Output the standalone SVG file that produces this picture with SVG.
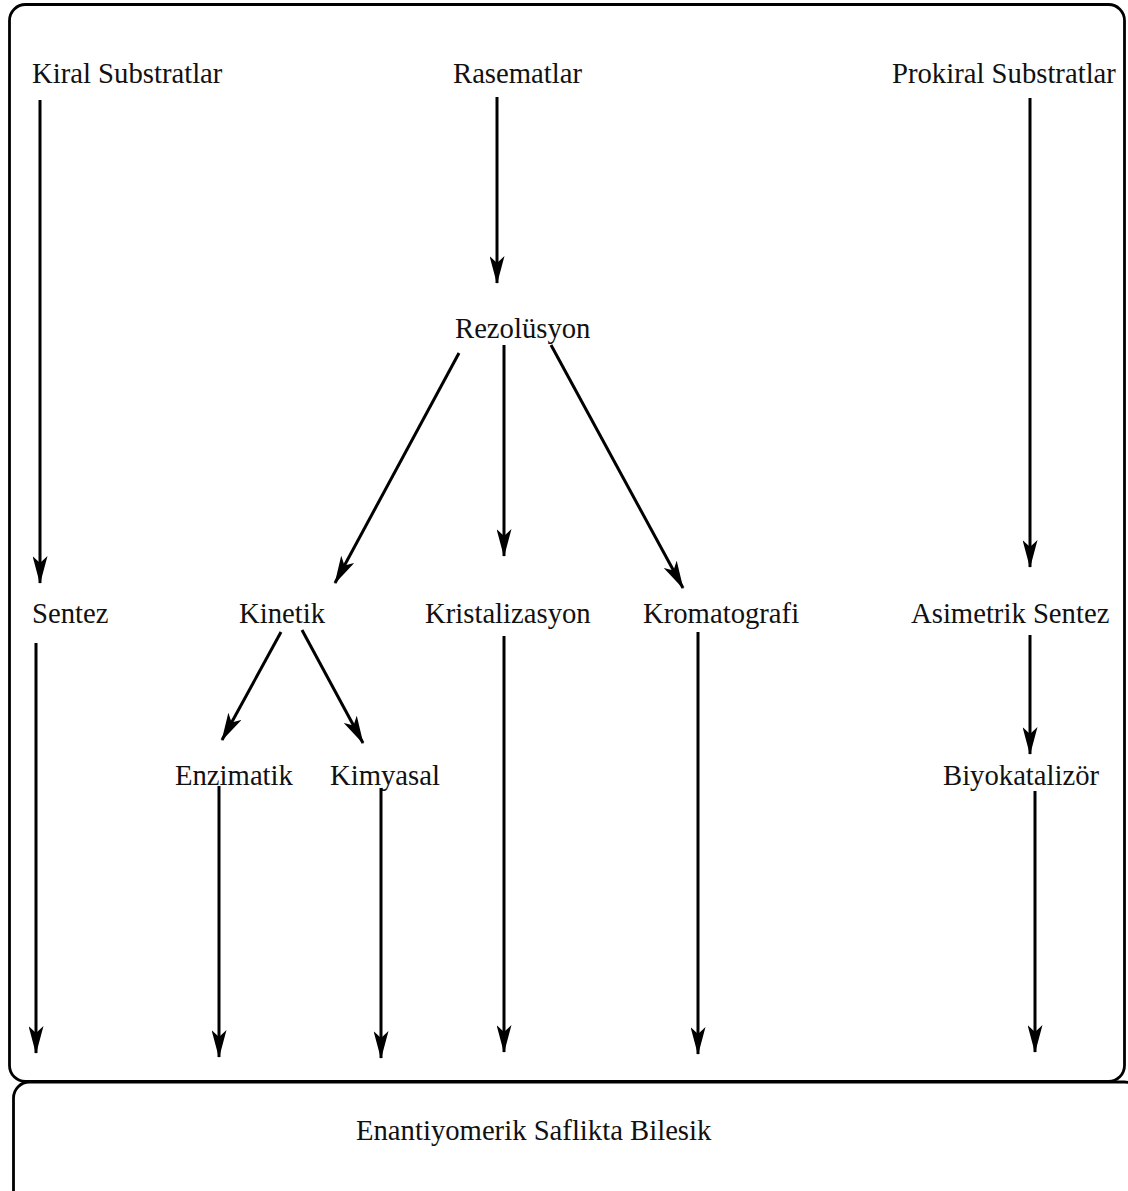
<svg xmlns="http://www.w3.org/2000/svg" width="1128" height="1191" viewBox="0 0 1128 1191">
  <style>
    .frame { fill: none; stroke: #000; stroke-width: 2.8; }
    .lbl { font-family: "Liberation Serif", "Times New Roman", serif; font-size: 28.7px; fill: #111; }
    .edge { fill: none; stroke: #000; stroke-width: 3; marker-end: url(#head); }
  </style>
  <defs>
    <!-- notched arrowhead, tip at the line end -->
    <marker id="head" markerUnits="userSpaceOnUse" viewBox="0 0 28 15" refX="27" refY="7.5" markerWidth="28" markerHeight="15" orient="auto">
      <path d="M0,0 L28,7.5 L0,15 L7,7.5 Z" fill="#000"/>
    </marker>
  </defs>

  <!-- outer frame and result box -->
  <rect class="frame" x="9.5" y="4.5" width="1115" height="1077" rx="16" ry="16"/>
  <rect class="frame" x="13.5" y="1082" width="1127" height="130" rx="16" ry="16"/>

  <g id="kiral"><text class="lbl" x="32" y="83">Kiral Substratlar</text></g>
  <g id="rasematlar"><text class="lbl" x="453" y="83">Rasematlar</text></g>
  <g id="prokiral"><text class="lbl" x="892" y="83">Prokiral Substratlar</text></g>
  <g id="rezolusyon"><text class="lbl" x="455" y="338">Rezolüsyon</text></g>
  <g id="sentez"><text class="lbl" x="32" y="623">Sentez</text></g>
  <g id="kinetik"><text class="lbl" x="239" y="623">Kinetik</text></g>
  <g id="kristalizasyon"><text class="lbl" x="425" y="623">Kristalizasyon</text></g>
  <g id="kromatografi"><text class="lbl" x="643" y="623">Kromatografi</text></g>
  <g id="asimetrik"><text class="lbl" x="911" y="623">Asimetrik Sentez</text></g>
  <g id="enzimatik"><text class="lbl" x="175" y="785">Enzimatik</text></g>
  <g id="kimyasal"><text class="lbl" x="330" y="785">Kimyasal</text></g>
  <g id="biyokatalizor"><text class="lbl" x="943" y="785">Biyokatalizör</text></g>
  <g id="urun"><text class="lbl" x="356" y="1140">Enantiyomerik Saflikta Bilesik</text></g>

  <g id="connectors">
    <line class="edge" x1="40" y1="100" x2="40" y2="583"/>
    <line class="edge" x1="497" y1="97" x2="497" y2="283"/>
    <line class="edge" x1="1030" y1="98" x2="1030" y2="567"/>
    <line class="edge" x1="459" y1="353" x2="335" y2="583"/>
    <line class="edge" x1="504" y1="345" x2="504" y2="556"/>
    <line class="edge" x1="551" y1="345" x2="683" y2="588"/>
    <line class="edge" x1="281" y1="632" x2="222" y2="740"/>
    <line class="edge" x1="302" y1="630" x2="363" y2="743"/>
    <line class="edge" x1="1030" y1="635" x2="1030" y2="754"/>
    <line class="edge" x1="36" y1="643" x2="36" y2="1053"/>
    <line class="edge" x1="219" y1="786" x2="219" y2="1057"/>
    <line class="edge" x1="381" y1="788" x2="381" y2="1058"/>
    <line class="edge" x1="504" y1="636" x2="504" y2="1052"/>
    <line class="edge" x1="698" y1="632" x2="698" y2="1054"/>
    <line class="edge" x1="1035" y1="791" x2="1035" y2="1052"/>
  </g>
</svg>
